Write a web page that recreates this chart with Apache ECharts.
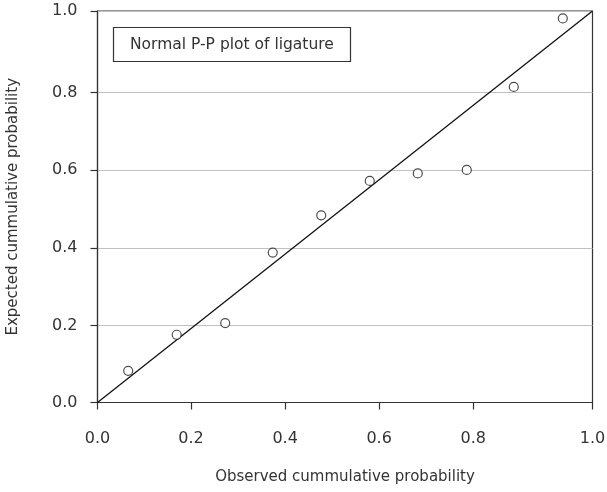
<!DOCTYPE html>
<html>
<head>
<meta charset="utf-8">
<script src="https://cdn.jsdelivr.net/npm/echarts@6/dist/echarts.min.js"></script>
<style>
  html, body { margin: 0; padding: 0; background: #fff; }
  #chart { width: 607px; height: 492px; }
</style>
</head>
<body>
<div id="chart"></div>
<script>
// Observed vs expected cumulative probabilities (normal P-P plot)
const observed = [0.062, 0.160, 0.258, 0.354, 0.452, 0.550, 0.647, 0.746, 0.841, 0.940];
const expected = [0.081, 0.173, 0.203, 0.383, 0.478, 0.566, 0.585, 0.594, 0.806, 0.981];

// Reference line y = x
const diagonal = [[0, 0], [1, 1]];

// Axis tick positions and their printed labels
const xTickPos = [0, 0.189, 0.379, 0.569, 0.759, 1];
const yTickPos = [0, 0.1966, 0.395, 0.593, 0.792, 1];
const tickLabels = ['0.0', '0.2', '0.4', '0.6', '0.8', '1.0'];

const FONT = '"DejaVu Sans", sans-serif';
const INK = '#333333';

function labelFor(positions) {
  return function (v) {
    let best = 0;
    for (let i = 1; i < positions.length; i++) {
      if (Math.abs(positions[i] - v) < Math.abs(positions[best] - v)) best = i;
    }
    return tickLabels[best];
  };
}

const points = observed.map((x, i) => [x, expected[i]]);

const chart = echarts.init(document.getElementById('chart'), null, { renderer: 'canvas' });
chart.setOption({
  animation: false,
  backgroundColor: '#ffffff',
  title: {
    text: 'Normal P-P plot of ligature',
    left: 113,
    top: 27,
    padding: [8, 17],
    borderWidth: 1.2,
    borderColor: INK,
    textStyle: { fontFamily: FONT, fontSize: 15.5, fontWeight: 'normal', color: INK, lineHeight: 19 }
  },
  grid: {
    left: 97.5, right: 14.5, top: 11, bottom: 89.5,
    outerBoundsMode: 'none',
    containLabel: false,
    show: true, borderColor: INK, borderWidth: 1.2, backgroundColor: 'transparent'
  },
  xAxis: {
    type: 'value', min: 0, max: 1,
    name: 'Observed cummulative probability',
    nameLocation: 'middle', nameGap: 67,
    nameTextStyle: { fontFamily: FONT, fontSize: 15, color: INK },
    axisLine: { show: true, onZero: false, lineStyle: { color: INK, width: 1.2 } },
    axisTick: { show: true, inside: false, length: 7, customValues: xTickPos, lineStyle: { color: INK, width: 1.2 } },
    axisLabel: { customValues: xTickPos, formatter: labelFor(xTickPos), margin: 28, fontFamily: FONT, fontSize: 16, color: INK },
    splitLine: { show: false }
  },
  yAxis: {
    type: 'value', min: 0, max: 1,
    name: 'Expected cummulative probability',
    nameLocation: 'middle', nameGap: 77,
    nameTextStyle: { fontFamily: FONT, fontSize: 15, color: INK },
    axisLine: { show: true, onZero: false, lineStyle: { color: INK, width: 1.2 } },
    axisTick: { show: true, inside: false, length: 7, customValues: yTickPos, lineStyle: { color: INK, width: 1.2 } },
    axisLabel: { customValues: yTickPos, formatter: labelFor(yTickPos), margin: 20, fontFamily: FONT, fontSize: 16, color: INK },
    splitLine: { show: true, lineStyle: { color: '#c0c0c0', width: 1.2 } }
  },
  series: [
    {
      type: 'line',
      data: diagonal,
      symbol: 'none',
      silent: true,
      lineStyle: { color: '#111', width: 1.3 },
      z: 3
    },
    {
      type: 'scatter',
      data: points,
      symbol: 'circle',
      symbolSize: 9,
      itemStyle: { color: '#ffffff', borderColor: '#222', borderWidth: 1.2 },
      z: 4
    }
  ]
});
</script>
</body>
</html>
